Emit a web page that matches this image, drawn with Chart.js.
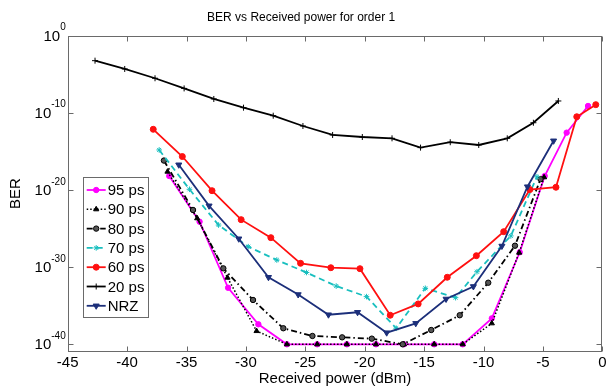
<!DOCTYPE html>
<html>
<head>
<meta charset="utf-8">
<script src="https://cdn.jsdelivr.net/npm/chart.js@4.4.0/dist/chart.umd.min.js"></script>
<style>
  html, body { margin: 0; padding: 0; background: #fff; }
</style>
</head>
<body>
<canvas id="berChart" width="610" height="386"></canvas>
<script>
// received power (dBm) and BER per pulse width
const power95 = [-36.45, -33.9, -31.5, -28.95, -26.55, -24.0, -21.5, -19.05, -16.7, -14.15, -11.75, -9.3, -6.95, -4.85, -3.0, -1.2];
const ber95 = [6.3e-19, 7.6e-25, 2.1e-33, 3.9e-38, 1e-40, 1e-40, 1e-40, 1e-40, 1e-40, 1e-40, 1e-40, 2.3e-37, 8.3e-29, 6.3e-19, 2.6e-13, 7.4e-10];

const power90 = [-36.6, -34.1, -31.55, -29.1, -26.55, -24.0, -21.5, -19.05, -16.7, -14.15, -11.75, -9.3, -7.0, -4.9];
const ber90 = [2.3e-18, 2.1e-24, 4.3e-32, 5.2e-39, 1e-40, 1e-40, 1e-40, 1e-40, 1e-40, 1e-40, 1e-40, 5.2e-38, 7.4e-29, 4.3e-19];

const power80 = [-36.9, -34.45, -31.9, -29.4, -26.85, -24.4, -21.9, -19.4, -16.8, -14.4, -12.0, -9.6, -7.35, -5.2];
const ber80 = [6.3e-17, 2.5e-23, 6.9e-31, 5.5e-35, 1.2e-38, 1.2e-39, 8e-40, 5.4e-40, 1e-40, 7.1e-39, 5.8e-37, 9.5e-33, 5.9e-28, 2.5e-19];

const power70 = [-37.3, -34.75, -32.3, -29.8, -27.4, -24.9, -22.4, -19.85, -17.35, -14.9, -12.35, -10.55, -7.7, -5.5];
const ber70 = [1.5e-15, 1.2e-20, 2.8e-25, 4.4e-28, 8.3e-30, 2.0e-31, 3.5e-33, 1.5e-34, 1.2e-38, 1.8e-33, 1.1e-34, 2.5e-31, 1.1e-26, 5.0e-19];

const power60 = [-37.8, -35.35, -32.85, -30.4, -27.9, -25.4, -22.85, -20.4, -17.85, -15.5, -13.05, -10.6, -8.3, -6.1, -3.9, -2.15, -0.55];
const ber60 = [7.1e-13, 2.1e-16, 7.9e-21, 1.4e-24, 6.5e-27, 3.1e-30, 8.3e-31, 6.2e-31, 5.8e-37, 1.7e-35, 4.8e-32, 3.0e-29, 3.9e-26, 1.1e-20, 2.2e-20, 3.0e-11, 1.1e-9];

const power20 = [-42.7, -40.2, -37.65, -35.2, -32.7, -30.2, -27.7, -25.2, -22.7, -20.2, -17.7, -15.3, -12.8, -10.4, -8.0, -5.8, -3.7];
const ber20 = [5.5e-4, 4.6e-5, 2.9e-6, 1.4e-7, 6.0e-9, 4.5e-10, 4.1e-11, 1.9e-12, 1.3e-13, 7.1e-14, 4.8e-14, 3.0e-15, 1.5e-14, 6.6e-15, 4.8e-14, 5.0e-12, 3.3e-9];

const powerNRZ = [-35.65, -33.1, -30.6, -28.1, -25.6, -23.05, -20.6, -18.15, -15.7, -13.15, -10.85, -8.45, -6.3, -4.1];
const berNRZ = [1.8e-17, 8.7e-23, 4.7e-27, 4.8e-32, 2.8e-34, 6.8e-37, 1.4e-36, 3.2e-39, 5.2e-38, 7.4e-35, 3.1e-33, 5.4e-28, 2.6e-20, 2.3e-14];

const seriesNames = ['95 ps', '90 ps', '80 ps', '70 ps', '60 ps', '20 ps', 'NRZ'];
const xTickLabels = ['-45', '-40', '-35', '-30', '-25', '-20', '-15', '-10', '-5', '0'];
const yTickValues = [1e-40, 1e-30, 1e-20, 1e-10, 1];

const FONT = 'Arial, "Liberation Sans", sans-serif';

function pts(xs, ys) {
    return xs.map((v, i) => ({ x: v, y: ys[i] }));
}

const styles = [
    { color: '#ff00ff', fill: '#ff00ff', dash: [], pointStyle: 'circle', radius: 2.7, rotation: 0 },
    { color: '#000000', fill: '#000000', dash: [1.5, 2], pointStyle: 'triangle', radius: 3, rotation: 0 },
    { color: '#000000', fill: '#555555', dash: [6, 3, 1.5, 3], pointStyle: 'circle', radius: 2.7, rotation: 0 },
    { color: '#19bfbf', fill: '#19bfbf', dash: [6, 4], pointStyle: 'star', radius: 2.8, rotation: 0 },
    { color: '#ff1010', fill: '#ff1010', dash: [], pointStyle: 'circle', radius: 3, rotation: 0 },
    { color: '#000000', fill: '#000000', dash: [], pointStyle: 'cross', radius: 3, rotation: 0 },
    { color: '#1c2f7a', fill: '#1c2f7a', dash: [], pointStyle: 'triangle', radius: 3.5, rotation: 180 }
];

const seriesData = [
    pts(power95, ber95), pts(power90, ber90), pts(power80, ber80), pts(power70, ber70),
    pts(power60, ber60), pts(power20, ber20), pts(powerNRZ, berNRZ)
];

const datasets = seriesNames.map((name, i) => ({
    label: name,
    data: seriesData[i],
    order: -i,
    borderColor: styles[i].color,
    borderWidth: i === 1 ? 1.5 : 1.8,
    borderDash: styles[i].dash,
    pointStyle: styles[i].pointStyle,
    pointRadius: styles[i].radius,
    pointRotation: styles[i].rotation,
    pointBackgroundColor: styles[i].fill,
    pointBorderColor: styles[i].color,
    pointBorderWidth: 1,
    tension: 0,
    fill: false
}));

// box, inward ticks, superscript y labels and the legend inside the axes
const matlabAxes = {
    id: 'matlabAxes',
    afterDraw(chart) {
        const { ctx, chartArea: a, scales: { x, y } } = chart;
        const L = Math.round(a.left) + 0.5, R = Math.round(a.right) - 0.5;
        const T = Math.round(a.top) + 0.5, B = Math.round(a.bottom) - 0.5;
        ctx.save();
        ctx.strokeStyle = '#6a6a6a';
        ctx.lineWidth = 1;
        ctx.setLineDash([]);
        ctx.strokeRect(L, T, R - L, B - T);
        ctx.beginPath();
        x.ticks.forEach(t => {
            const px = Math.round(x.getPixelForValue(t.value)) + 0.5;
            ctx.moveTo(px, B); ctx.lineTo(px, B - 5);
            ctx.moveTo(px, T); ctx.lineTo(px, T + 5);
        });
        y.ticks.forEach(t => {
            const py = Math.round(y.getPixelForValue(t.value)) + 0.5;
            ctx.moveTo(L, py); ctx.lineTo(L + 5, py);
            ctx.moveTo(R, py); ctx.lineTo(R - 5, py);
        });
        ctx.stroke();

        // y tick labels as 10 with a superscript exponent
        ctx.fillStyle = '#000';
        ctx.textBaseline = 'middle';
        y.ticks.forEach(t => {
            const py = y.getPixelForValue(t.value);
            const exp = String(Math.round(Math.log10(t.value)));
            ctx.font = '10px ' + FONT;
            const ew = ctx.measureText(exp).width;
            ctx.textAlign = 'right';
            ctx.fillText(exp, a.left - 2, py - 8);
            ctx.font = '15px ' + FONT;
            ctx.fillText('10', a.left - 2 - ew, py + 1);
        });

        // legend
        const lx = a.left + 15, ly = a.top + 141, lw = 65, lh = 140;
        ctx.fillStyle = '#fff';
        ctx.fillRect(lx, ly, lw, lh);
        ctx.strokeStyle = '#6a6a6a';
        ctx.strokeRect(Math.round(lx) + 0.5, Math.round(ly) + 0.5, lw, lh);
        chart.data.datasets.forEach((ds, i) => {
            const yy = ly + 13.5 + i * 19.3;
            ctx.strokeStyle = ds.borderColor;
            ctx.lineWidth = ds.borderWidth;
            ctx.setLineDash(ds.borderDash);
            ctx.beginPath();
            ctx.moveTo(lx + 4, yy);
            ctx.lineTo(lx + 23, yy);
            ctx.stroke();
            ctx.setLineDash([]);
            ctx.lineWidth = 1;
            ctx.fillStyle = ds.pointBackgroundColor;
            ctx.strokeStyle = ds.pointBorderColor;
            Chart.helpers.drawPoint(ctx, {
                pointStyle: ds.pointStyle, radius: ds.pointRadius,
                rotation: ds.pointRotation, borderWidth: 1
            }, lx + 13.5, yy);
            ctx.fillStyle = '#000';
            ctx.font = '15px ' + FONT;
            ctx.textAlign = 'left';
            ctx.textBaseline = 'middle';
            ctx.fillText(ds.label, lx + 25, yy + 1);
        });
        ctx.restore();
    }
};

new Chart(document.getElementById('berChart'), {
    type: 'line',
    data: { datasets: datasets },
    options: {
        responsive: false,
        animation: false,
        layout: { padding: { left: 0, right: 7.7, top: 0, bottom: 0 } },
        plugins: {
            legend: { display: false },
            tooltip: { enabled: false },
            title: {
                display: true,
                text: 'BER vs Received power for order 1',
                color: '#000',
                font: { family: FONT, size: 12, weight: 'normal' },
                padding: { top: 10, bottom: 11.1 }
            }
        },
        scales: {
            x: {
                type: 'linear',
                min: -45,
                max: 0,
                grid: { display: false, drawTicks: false },
                border: { display: false },
                ticks: {
                    stepSize: 5,
                    padding: 2,
                    color: '#000',
                    font: { family: FONT, size: 15 },
                    callback: (v, i) => xTickLabels[i]
                },
                title: {
                    display: true,
                    text: 'Received power (dBm)',
                    color: '#000',
                    font: { family: FONT, size: 15, lineHeight: 1 },
                    padding: { top: 0, bottom: 0 }
                },
                afterFit: s => { s.height = 34.3; }
            },
            y: {
                type: 'logarithmic',
                min: 1.1e-41,
                max: 1,
                grid: { display: false, drawTicks: false },
                border: { display: false },
                ticks: { display: false },
                afterBuildTicks: s => { s.ticks = yTickValues.map(v => ({ value: v })); },
                title: {
                    display: true,
                    text: 'BER',
                    color: '#000',
                    font: { family: FONT, size: 15, lineHeight: 1 },
                    padding: { top: 8, bottom: 0 }
                },
                afterFit: s => { s.width = 67.7; }
            }
        }
    },
    plugins: [matlabAxes]
});
</script>
</body>
</html>
